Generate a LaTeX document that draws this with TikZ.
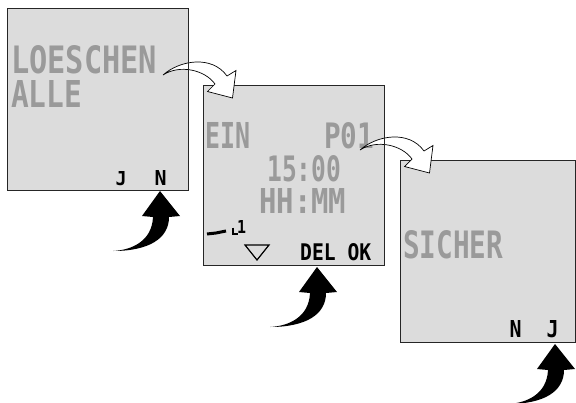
\documentclass[tikz,border=0pt]{standalone}
\usepackage{fontspec}
\usepackage{graphicx}
\newfontfamily\lcd{DejaVu Sans Mono}
\newcommand{\lcdfit}[3]{\resizebox{#1pt}{#2pt}{\lcd\bfseries #3}}
\definecolor{panelgray}{HTML}{DCDCDC}
\definecolor{lcdgray}{HTML}{9A9A9A}
\begin{document}
\begin{tikzpicture}[x=1pt,y=-1pt,
  panel/.style={draw=black!85, line width=0.8pt, fill=panelgray, inner sep=0pt, anchor=north west},
  graytxt/.style={text=lcdgray, inner sep=0pt, anchor=base west},
  blacktxt/.style={text=black, inner sep=0pt, anchor=base west},
  whitearrow/.style={fill=white, draw=black, line width=0.7pt, line join=miter},
  blackarrow/.style={fill=black},
  edge/.style={draw=black!85, line width=0.8pt}]
\useasboundingbox (0,0) rectangle (576,402);
% panels
\node[panel, minimum width=181pt, minimum height=182pt] (p1) at (7,8) {};
\node[panel, minimum width=181pt, minimum height=180pt] (p2) at (203,85) {};
\node[panel, minimum width=175pt, minimum height=182pt] (p3) at (400,160) {};
% panel 1 text
\node[graytxt] (t1a) at (11,73) {\lcdfit{146}{28}{LOESCHEN}};
\node[graytxt] (t1b) at (11,107) {\lcdfit{71}{27}{ALLE}};
\node[blacktxt] (t1j) at (115.5,185) {\lcdfit{11}{14}{J}};
\node[blacktxt] (t1n) at (154.5,185) {\lcdfit{12}{15}{N}};
% panel 2 text
\node[graytxt] (t2a) at (205,148) {\lcdfit{45}{26}{EIN}};
\node[graytxt] (t2b) at (324,148) {\lcdfit{50}{26}{P01}};
\node[graytxt] (t2c) at (267,181.5) {\lcdfit{74}{26}{15:00}};
\node[graytxt] (t2d) at (259,213) {\lcdfit{87}{25}{HH:MM}};
\node[blacktxt] (t2e) at (237,233) {\lcdfit{9}{13}{1}};
\node[blacktxt] (t2f) at (300,260) {\lcdfit{71}{17}{DEL OK}};
\draw[line width=3pt] (207,234) -- (216,233) -- (226,231);
\draw[line width=2.4pt] (233,227.5) -- (233,234) -- (237.5,234);
\draw[line width=1.2pt, line join=miter] (245,245) -- (269,245) -- (257,260) -- cycle;
% panel 3 text
\node[graytxt] (t3a) at (403,258) {\lcdfit{100}{28}{SICHER}};
\node[blacktxt] (t3n) at (509.5,337) {\lcdfit{12}{17}{N}};
\node[blacktxt] (t3j) at (546.5,337) {\lcdfit{12}{17}{J}};
% white arrows
\foreach \dx/\dy in {0/0, 197/75}{
  \begin{scope}[shift={(\dx,\dy)}]
    \path[whitearrow] (163,75) .. controls (180,60) and (212,55) .. (227,76)
      -- (236,70.5) -- (232.5,98) -- (207.5,91.5) -- (215,84)
      .. controls (205,70) and (180,64) .. (163,75) -- cycle;
  \end{scope}
}
\draw[edge] (p1.north east) -- (p1.south east);
\draw[edge] (p2.north east) -- (p2.south east);
% black arrows
\foreach \tx/\ty in {160/191, 317/267, 555/344}{
  \begin{scope}[shift={(\tx,\ty)}]
    \path[blackarrow] (0,0) -- (20,25) -- (9,26)
      .. controls (9,48) and (-12,60) .. (-47,60)
      .. controls (-28,59) and (-8,50) .. (-7,26)
      -- (-18,25) -- cycle;
  \end{scope}
}
\end{tikzpicture}
\end{document}
